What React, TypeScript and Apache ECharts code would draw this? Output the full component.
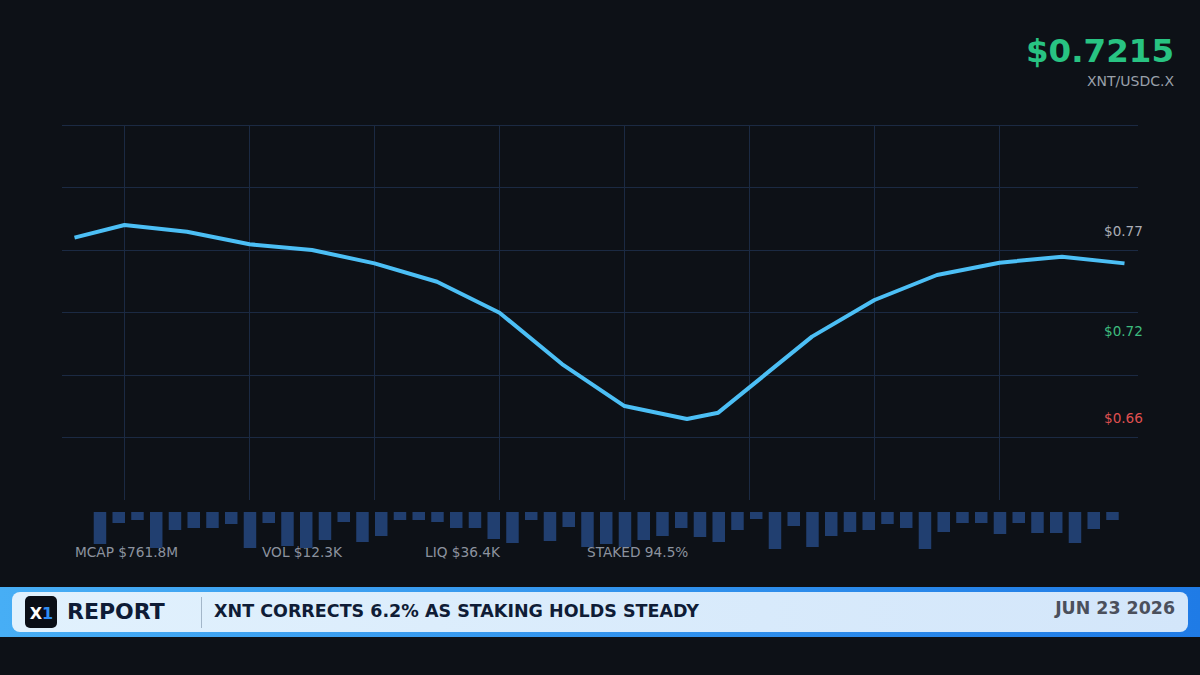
import { useEffect, useRef } from "react";
import * as echarts from "echarts";

// price path (x in hours, y in USDC)
const priceHours = [0.2, 1, 2, 3, 4, 5, 6, 7, 8, 9, 10, 10.5, 12, 13, 14, 15, 16, 17];
const priceValues = [
  0.7631, 0.7704, 0.7665, 0.7593, 0.756, 0.7483, 0.7377, 0.7199, 0.6903, 0.6661,
  0.6587, 0.6623, 0.7061, 0.7272, 0.7416, 0.7487, 0.7521, 0.7483,
];
const gridHours = [1, 3, 5, 7, 9, 11, 13, 15];

// volume strip
const volumeValues = [
  32, 11, 8, 36, 18, 16, 16, 12, 36, 11, 34, 36, 28, 10, 30, 24, 8, 8, 10, 16, 16, 27,
  31, 8, 29, 15, 35, 32, 35, 28, 24, 16, 25, 30, 18, 7, 37, 14, 35, 24, 20, 18, 12, 16,
  37, 20, 11, 11, 22, 11, 21, 21, 31, 17, 8,
];
const volumeSlots = volumeValues.map((_, i) => `${i + 1}`);

const priceLabels = [
  { text: "$0.77", color: "#a9adb5", y: 231 },
  { text: "$0.72", color: "#3dbb7e", y: 331 },
  { text: "$0.66", color: "#df4f4f", y: 418 },
];
const statLabels = [
  { text: "MCAP $761.8M", x: 75 },
  { text: "VOL $12.3K", x: 262 },
  { text: "LIQ $36.4K", x: 425 },
  { text: "STAKED 94.5%", x: 587 },
];
const lastPrice = "$0.7215";
const pairName = "XNT/USDC.X";
const headline = "XNT CORRECTS 6.2% AS STAKING HOLDS STEADY";
const reportDate = "JUN 23 2026";

const FONT = "'DejaVu Sans', Verdana, sans-serif";
const GRID_COLOR = "#1b2a43";

export default function App() {
  const chartRef = useRef<HTMLDivElement>(null);

  useEffect(() => {
    if (!chartRef.current) return;
    const chart = echarts.init(chartRef.current, null, { renderer: "svg" });

    chart.setOption({
      animation: false,
      backgroundColor: "#0d1117",
      textStyle: { fontFamily: FONT },
      grid: [
        { left: 62, right: 62, top: 125, bottom: 175 },
        { left: 90.6, width: 1031.25, top: 512, height: 40 },
      ],
      xAxis: [
        {
          type: "value",
          gridIndex: 0,
          min: 0,
          max: 17.216,
          axisLine: { show: false },
          axisTick: { show: false },
          axisLabel: { show: false },
          splitLine: { show: false },
        },
        {
          type: "category",
          gridIndex: 1,
          data: volumeSlots,
          axisLine: { show: false },
          axisTick: { show: false },
          axisLabel: { show: false },
        },
      ],
      yAxis: [
        {
          type: "value",
          gridIndex: 0,
          min: 0.612,
          max: 0.828,
          interval: 0.036,
          axisLine: { show: false },
          axisTick: { show: false },
          axisLabel: { show: false },
          splitLine: {
            show: true,
            showMinLine: false,
            lineStyle: { color: GRID_COLOR, width: 1 },
          },
        },
        {
          type: "value",
          gridIndex: 1,
          inverse: true,
          min: 0,
          max: 40,
          axisLine: { show: false },
          axisTick: { show: false },
          axisLabel: { show: false },
          splitLine: { show: false },
        },
      ],
      series: [
        {
          type: "line",
          xAxisIndex: 0,
          yAxisIndex: 0,
          z: 3,
          data: priceHours.map((h, i) => [h, priceValues[i]]),
          showSymbol: false,
          lineStyle: { color: "#4cbff5", width: 4, join: "round" },
          markLine: {
            silent: true,
            z: 1,
            symbol: "none",
            label: { show: false },
            lineStyle: { color: GRID_COLOR, width: 1, type: "solid" },
            data: gridHours.map((h) => ({ xAxis: h })),
          },
        },
        {
          type: "bar",
          xAxisIndex: 1,
          yAxisIndex: 1,
          data: volumeValues,
          barWidth: 12.5,
          itemStyle: { color: "#213f70" },
        },
      ],
      graphic: [
        {
          type: "text",
          x: 1174,
          y: 51,
          style: {
            text: lastPrice,
            fill: "#28c382",
            font: `bold 32.5px ${FONT}`,
            align: "right",
            verticalAlign: "middle",
          },
        },
        {
          type: "text",
          x: 1174,
          y: 81,
          style: {
            text: pairName,
            fill: "#9aa0aa",
            font: `14px ${FONT}`,
            align: "right",
            verticalAlign: "middle",
          },
        },
        ...priceLabels.map((p) => ({
          type: "text",
          x: 1104,
          y: p.y,
          style: {
            text: p.text,
            fill: p.color,
            font: `13.6px ${FONT}`,
            align: "left",
            verticalAlign: "middle",
          },
        })),
        ...statLabels.map((s) => ({
          type: "text",
          x: s.x,
          y: 552,
          style: {
            text: s.text,
            fill: "#8c939f",
            font: `13.7px ${FONT}`,
            align: "left",
            verticalAlign: "middle",
          },
        })),
        // ticker band
        {
          type: "rect",
          shape: { x: 0, y: 587, width: 1200, height: 50 },
          style: {
            fill: new echarts.graphic.LinearGradient(0, 0, 1, 0, [
              { offset: 0, color: "#47aef5" },
              { offset: 1, color: "#1f7be6" },
            ]),
          },
        },
        {
          type: "rect",
          shape: { x: 12, y: 592, width: 1176, height: 40, r: 8 },
          style: {
            fill: new echarts.graphic.LinearGradient(0, 0, 1, 0, [
              { offset: 0, color: "#e1f1fd" },
              { offset: 1, color: "#d3e6fa" },
            ]),
          },
        },
        {
          type: "rect",
          shape: { x: 25, y: 596, width: 32, height: 32, r: 5 },
          style: { fill: "#0a0e16" },
        },
        {
          type: "text",
          x: 42,
          y: 613,
          style: {
            text: "X",
            fill: "#ffffff",
            font: `bold 16px ${FONT}`,
            align: "right",
            verticalAlign: "middle",
          },
        },
        {
          type: "text",
          x: 42,
          y: 613,
          style: {
            text: "1",
            fill: "#2f8df2",
            font: `bold 16px ${FONT}`,
            align: "left",
            verticalAlign: "middle",
          },
        },
        {
          type: "text",
          x: 67,
          y: 611,
          style: {
            text: "REPORT",
            fill: "#0f1c36",
            font: `bold 22px ${FONT}`,
            align: "left",
            verticalAlign: "middle",
          },
        },
        {
          type: "line",
          shape: { x1: 201.5, y1: 597, x2: 201.5, y2: 628 },
          style: { stroke: "#a3b6c9", lineWidth: 1 },
        },
        {
          type: "text",
          x: 214,
          y: 611,
          style: {
            text: headline,
            fill: "#0f1c36",
            font: `bold 17.5px ${FONT}`,
            align: "left",
            verticalAlign: "middle",
          },
        },
        {
          type: "text",
          x: 1175,
          y: 608,
          style: {
            text: reportDate,
            fill: "#4b505c",
            font: `bold 17.4px ${FONT}`,
            align: "right",
            verticalAlign: "middle",
          },
        },
      ],
    });

    return () => {
      chart.dispose();
    };
  }, []);

  return (
    <div
      ref={chartRef}
      style={{ position: "fixed", left: 0, top: 0, width: 1200, height: 675 }}
    />
  );
}
